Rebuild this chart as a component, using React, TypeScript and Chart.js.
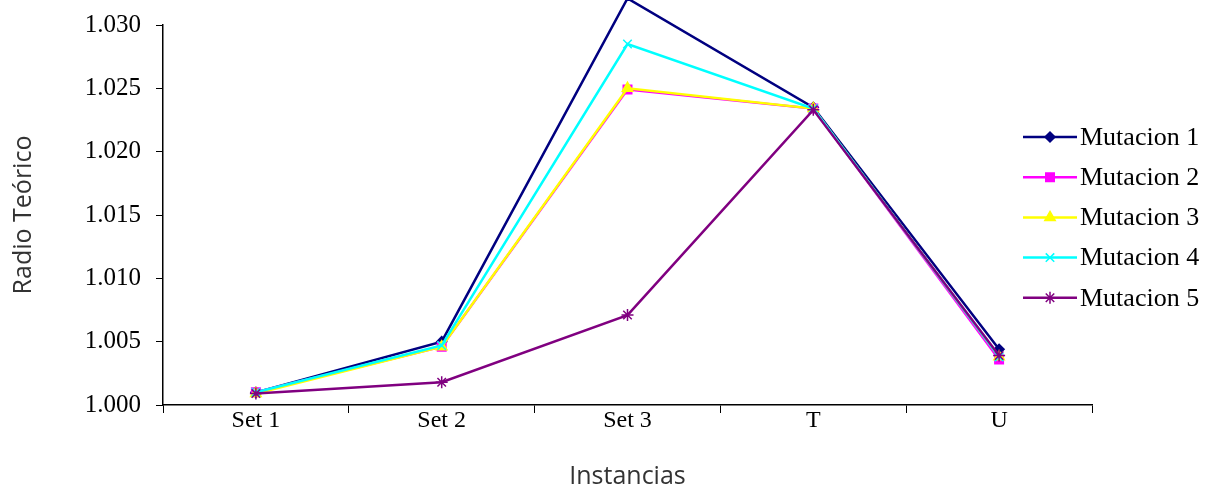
import React, { useEffect, useRef } from "react";
import { Chart, registerables } from "chart.js";
import { drawPoint } from "chart.js/helpers";

Chart.register(...registerables);

const categories = ["Set 1", "Set 2", "Set 3", "T", "U"];
const mutacion1 = [1.001, 1.005, 1.0321, 1.0235, 1.0044];
const mutacion2 = [1.001, 1.0046, 1.0249, 1.0234, 1.0036];
const mutacion3 = [1.0009, 1.0046, 1.025, 1.0234, 1.0038];
const mutacion4 = [1.001, 1.0047, 1.0285, 1.0234, 1.0038];
const mutacion5 = [1.0009, 1.0018, 1.0071, 1.0233, 1.0039];
const yTicks = [1.0, 1.005, 1.01, 1.015, 1.02, 1.025, 1.03];
const seriesNames = ["Mutacion 1", "Mutacion 2", "Mutacion 3", "Mutacion 4", "Mutacion 5"];
const seriesValues = [mutacion1, mutacion2, mutacion3, mutacion4, mutacion5];
const seriesColors = ["#000080", "#FF00FF", "#FFFF00", "#00FFFF", "#800080"];
const seriesMarkers = ["rectRot", "rect", "triangle", "crossRot", "star"];
const markerRadius = [5, 6, 6, 6, 6];

const SERIF = "'Liberation Serif', 'Times New Roman', serif";
const SANS = "'Open Sans', 'Liberation Sans', sans-serif";

const legendPlugin = {
  id: "customLegend",
  afterDraw(chart: any) {
    const ctx = chart.ctx;
    const startY = 137;
    const gap = 40.2;
    chart.data.datasets.forEach((ds: any, i: number) => {
      const y = startY + i * gap;
      ctx.save();
      ctx.strokeStyle = ds.borderColor;
      ctx.lineWidth = 2.5;
      ctx.beginPath();
      ctx.moveTo(1023, y);
      ctx.lineTo(1077, y);
      ctx.stroke();
      ctx.fillStyle = ds.pointBackgroundColor;
      ctx.strokeStyle = ds.pointBorderColor;
      ctx.lineWidth = 1.5;
      drawPoint(ctx, { pointStyle: ds.pointStyle, radius: ds.pointRadius, rotation: 0, borderWidth: 1.5 }, 1050, y);
      ctx.fillStyle = "#000";
      ctx.font = `26px ${SERIF}`;
      ctx.textBaseline = "middle";
      ctx.textAlign = "left";
      ctx.fillText(ds.label, 1080, y + 1);
      ctx.restore();
    });
  },
};

export default function App() {
  const ref = useRef<HTMLCanvasElement>(null);
  useEffect(() => {
    if (!ref.current) return;
    const chart = new Chart(ref.current, {
      type: "line",
      data: {
        labels: categories,
        datasets: seriesNames.map((name, i) => ({
          label: name,
          data: seriesValues[i],
          borderColor: seriesColors[i],
          backgroundColor: seriesColors[i],
          pointBackgroundColor: seriesColors[i],
          pointBorderColor: seriesColors[i],
          pointStyle: seriesMarkers[i] as any,
          pointRadius: markerRadius[i],
          pointBorderWidth: 1.5,
          borderWidth: 2.5,
          tension: 0,
          clip: false as any,
          order: seriesNames.length - 1 - i,
        })),
      },
      options: {
        animation: false,
        responsive: false,
        layout: { padding: { top: 25, right: 114, left: 0, bottom: 0 } },
        plugins: { legend: { display: false }, tooltip: { enabled: false } },
        scales: {
          x: {
            offset: true,
            grid: { drawOnChartArea: false, drawTicks: true, tickLength: 8, color: "#000", offset: true },
            border: { color: "#000", width: 1.5 },
            ticks: { color: "#000", font: { family: SERIF, size: 24 }, padding: -7, maxRotation: 0 },
            title: {
              display: true,
              text: "Instancias",
              color: "#333",
              font: { family: SANS, size: 25, lineHeight: 1 },
              padding: { top: 0, bottom: 0 },
            },
            afterFit: (s: any) => {
              s.height = 84;
              s.paddingLeft = 0;
              s.paddingRight = 0;
            },
          },
          y: {
            min: 1.0,
            max: 1.03,
            grid: { drawOnChartArea: false, drawTicks: true, tickLength: 7, color: "#000" },
            border: { color: "#000", width: 1.5 },
            afterBuildTicks: (s: any) => {
              s.ticks = yTicks.map((v) => ({ value: v }));
            },
            ticks: {
              color: "#000",
              font: { family: SERIF, size: 25 },
              padding: 15,
              callback: (v: any) => Number(v).toFixed(3),
            },
            title: {
              display: true,
              text: "Radio Teórico",
              color: "#333",
              font: { family: SANS, size: 25, lineHeight: 1 },
              padding: { top: 11, bottom: 0 },
            },
            afterFit: (s: any) => {
              s.width = 163;
              s.paddingTop = 0;
              s.paddingBottom = 0;
            },
          },
        },
      },
      plugins: [legendPlugin],
    });
    return () => chart.destroy();
  }, []);
  return (
    <div style={{ position: "absolute", left: 0, top: 0, width: 1206, height: 489, background: "#fff" }}>
      <canvas ref={ref} width={1206} height={489} style={{ display: "block" }} />
    </div>
  );
}
